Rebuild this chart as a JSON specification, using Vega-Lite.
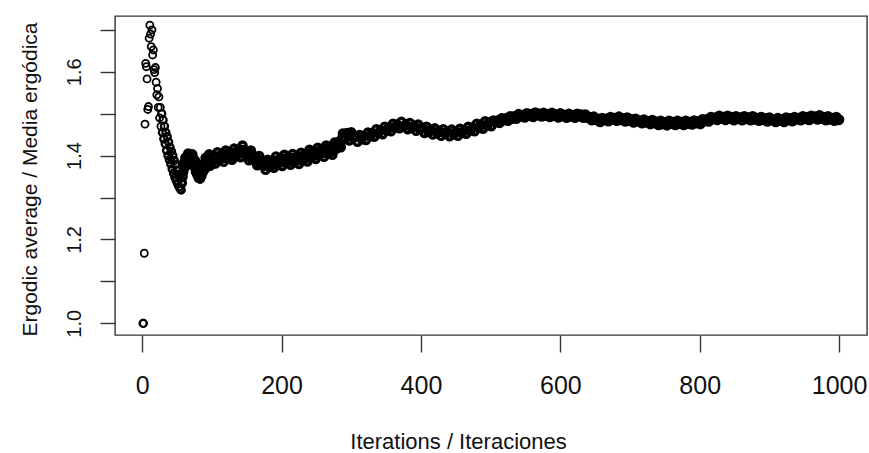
{
  "$schema": "https://vega.github.io/schema/vega-lite/v6.json",
  "width": 752,
  "height": 319,
  "autosize": {"type": "none"},
  "padding": {"left": 115, "top": 16, "right": 2, "bottom": 118},
  "background": "white",
  "config": {
    "view": {"stroke": "#333", "strokeWidth": 1.4},
    "axis": {"grid": false, "domain": false, "tickColor": "#333", "tickWidth": 1.4, "labelColor": "#111", "titleColor": "#111", "labelFlush": false, "labelOverlap": false, "labelBound": false}
  },
  "data": {"values": [
    {"i":1,"v":1.000},{"i":2,"v":1.000},{"i":3,"v":1.167},{"i":4,"v":1.475},{"i":5,"v":1.620},{"i":6,"v":1.612},{"i":7,"v":1.583},{"i":8,"v":1.510},{"i":9,"v":1.517},{"i":10,"v":1.680},
    {"i":11,"v":1.711},{"i":12,"v":1.690},{"i":13,"v":1.660},{"i":14,"v":1.700},{"i":15,"v":1.640},{"i":16,"v":1.652},{"i":17,"v":1.605},{"i":18,"v":1.598},{"i":19,"v":1.610},{"i":20,"v":1.575},
    {"i":21,"v":1.545},{"i":22,"v":1.560},{"i":23,"v":1.515},{"i":24,"v":1.540},{"i":25,"v":1.490},{"i":26,"v":1.515},{"i":27,"v":1.470},{"i":28,"v":1.500},{"i":29,"v":1.455},{"i":30,"v":1.485},
    {"i":31,"v":1.440},{"i":32,"v":1.470},{"i":33,"v":1.428},{"i":34,"v":1.455},{"i":35,"v":1.412},{"i":36,"v":1.445},{"i":37,"v":1.400},{"i":38,"v":1.432},{"i":39,"v":1.390},{"i":40,"v":1.420},
    {"i":41,"v":1.380},{"i":42,"v":1.410},{"i":43,"v":1.368},{"i":44,"v":1.400},{"i":45,"v":1.358},{"i":46,"v":1.388},{"i":47,"v":1.348},{"i":48,"v":1.378},{"i":49,"v":1.340},{"i":50,"v":1.365},
    {"i":51,"v":1.332},{"i":52,"v":1.355},{"i":53,"v":1.325},{"i":54,"v":1.345},{"i":55,"v":1.320},{"i":56,"v":1.318},{"i":57,"v":1.335},{"i":58,"v":1.350},{"i":59,"v":1.362},
    {"i":60,"v":1.383},{"i":61,"v":1.372},{"i":62,"v":1.395},{"i":63,"v":1.387},{"i":64,"v":1.398},{"i":65,"v":1.380},{"i":66,"v":1.405},{"i":67,"v":1.392},{"i":68,"v":1.400},{"i":69,"v":1.385},{"i":70,"v":1.396},{"i":71,"v":1.378},
    {"i":72,"v":1.403},{"i":73,"v":1.385},{"i":74,"v":1.392},{"i":75,"v":1.375},{"i":76,"v":1.388},{"i":77,"v":1.362},{"i":78,"v":1.373},{"i":79,"v":1.355},{"i":80,"v":1.365},{"i":81,"v":1.347},{"i":82,"v":1.360},{"i":83,"v":1.345},
    {"i":84,"v":1.371},{"i":85,"v":1.352},{"i":86,"v":1.376},{"i":87,"v":1.361},{"i":88,"v":1.380},{"i":89,"v":1.366},{"i":90,"v":1.383},{"i":91,"v":1.395},{"i":92,"v":1.378},{"i":93,"v":1.373},{"i":94,"v":1.396},{"i":95,"v":1.380},
    {"i":96,"v":1.403},{"i":97,"v":1.390},{"i":98,"v":1.376},{"i":99,"v":1.387},
    {"i":101,"v":1.397},{"i":104,"v":1.390},{"i":107,"v":1.398},{"i":110,"v":1.391},{"i":113,"v":1.400},{"i":116,"v":1.394},{"i":119,"v":1.403},{"i":122,"v":1.396},{"i":125,"v":1.405},{"i":128,"v":1.398},
    {"i":131,"v":1.407},{"i":134,"v":1.401},{"i":137,"v":1.411},{"i":140,"v":1.405},{"i":143,"v":1.414},{"i":146,"v":1.406},{"i":149,"v":1.410},{"i":152,"v":1.399},{"i":155,"v":1.404},{"i":158,"v":1.393},
    {"i":161,"v":1.398},{"i":164,"v":1.387},{"i":167,"v":1.391},{"i":170,"v":1.380},{"i":173,"v":1.386},{"i":176,"v":1.376},{"i":179,"v":1.382},{"i":182,"v":1.374},{"i":185,"v":1.384},{"i":188,"v":1.379},
    {"i":191,"v":1.388},{"i":194,"v":1.382},{"i":197,"v":1.391},{"i":200,"v":1.384},{"i":203,"v":1.393},{"i":206,"v":1.385},{"i":209,"v":1.394},{"i":212,"v":1.386},{"i":215,"v":1.395},{"i":218,"v":1.388},
    {"i":221,"v":1.396},{"i":224,"v":1.389},{"i":227,"v":1.398},{"i":230,"v":1.391},{"i":233,"v":1.401},{"i":236,"v":1.395},{"i":239,"v":1.405},{"i":242,"v":1.398},{"i":245,"v":1.407},{"i":248,"v":1.400},
    {"i":251,"v":1.410},{"i":254,"v":1.403},{"i":257,"v":1.413},{"i":260,"v":1.406},{"i":263,"v":1.415},{"i":266,"v":1.408},{"i":269,"v":1.417},{"i":272,"v":1.410},{"i":275,"v":1.420},{"i":278,"v":1.417},
    {"i":281,"v":1.430},{"i":284,"v":1.427},{"i":287,"v":1.442},{"i":290,"v":1.441},{"i":293,"v":1.452},{"i":296,"v":1.446},{"i":299,"v":1.452},
    {"i":102,"v":1.398},{"i":105,"v":1.381},{"i":108,"v":1.408},{"i":111,"v":1.390},{"i":114,"v":1.402},{"i":117,"v":1.385},
    {"i":120,"v":1.412},{"i":123,"v":1.395},{"i":126,"v":1.406},{"i":129,"v":1.390},{"i":132,"v":1.417},{"i":135,"v":1.401},{"i":138,"v":1.413},{"i":141,"v":1.396},{"i":144,"v":1.424},{"i":147,"v":1.404},
    {"i":150,"v":1.410},{"i":153,"v":1.389},{"i":156,"v":1.412},{"i":159,"v":1.391},{"i":162,"v":1.398},{"i":165,"v":1.377},{"i":168,"v":1.399},{"i":171,"v":1.378},{"i":174,"v":1.386},{"i":177,"v":1.366},
    {"i":180,"v":1.390},{"i":183,"v":1.374},{"i":186,"v":1.386},{"i":189,"v":1.371},{"i":192,"v":1.398},{"i":195,"v":1.381},{"i":198,"v":1.392},{"i":201,"v":1.375},{"i":204,"v":1.402},{"i":207,"v":1.384},
    {"i":210,"v":1.395},{"i":213,"v":1.378},{"i":216,"v":1.404},{"i":219,"v":1.387},{"i":222,"v":1.398},{"i":225,"v":1.380},{"i":228,"v":1.407},{"i":231,"v":1.391},{"i":234,"v":1.402},{"i":237,"v":1.386},
    {"i":240,"v":1.414},{"i":243,"v":1.397},{"i":246,"v":1.409},{"i":249,"v":1.392},{"i":252,"v":1.419},{"i":255,"v":1.403},{"i":258,"v":1.414},{"i":261,"v":1.397},{"i":264,"v":1.424},{"i":267,"v":1.407},
    {"i":270,"v":1.418},{"i":273,"v":1.402},{"i":276,"v":1.431},{"i":279,"v":1.417},{"i":282,"v":1.433},{"i":285,"v":1.420},{"i":288,"v":1.453},{"i":291,"v":1.441},{"i":294,"v":1.454},{"i":297,"v":1.436},
    {"i":300,"v":1.456},{"i":303,"v":1.443},{"i":306,"v":1.446},{"i":309,"v":1.433},{"i":312,"v":1.449},{"i":315,"v":1.439},{"i":318,"v":1.447},{"i":321,"v":1.437},{"i":324,"v":1.455},{"i":327,"v":1.446},
    {"i":330,"v":1.454},{"i":333,"v":1.445},{"i":336,"v":1.463},{"i":339,"v":1.453},{"i":342,"v":1.461},{"i":345,"v":1.451},{"i":348,"v":1.469},{"i":351,"v":1.460},{"i":354,"v":1.467},{"i":357,"v":1.458},
    {"i":360,"v":1.476},{"i":363,"v":1.467},{"i":366,"v":1.474},{"i":369,"v":1.465},{"i":372,"v":1.481},{"i":375,"v":1.469},{"i":378,"v":1.474},{"i":381,"v":1.463},{"i":384,"v":1.478},{"i":387,"v":1.466},
    {"i":390,"v":1.471},{"i":393,"v":1.459},{"i":396,"v":1.474},{"i":399,"v":1.462},{"i":402,"v":1.467},{"i":405,"v":1.454},{"i":408,"v":1.469},{"i":411,"v":1.457},{"i":414,"v":1.462},{"i":417,"v":1.450},
    {"i":420,"v":1.465},{"i":423,"v":1.453},{"i":426,"v":1.459},{"i":429,"v":1.447},{"i":432,"v":1.463},{"i":435,"v":1.452},{"i":438,"v":1.457},{"i":441,"v":1.446},{"i":444,"v":1.462},{"i":447,"v":1.451},
    {"i":450,"v":1.457},{"i":453,"v":1.447},{"i":456,"v":1.464},{"i":459,"v":1.454},{"i":462,"v":1.461},{"i":465,"v":1.452},{"i":468,"v":1.469},{"i":471,"v":1.460},{"i":474,"v":1.467},{"i":477,"v":1.458},
    {"i":480,"v":1.476},{"i":483,"v":1.466},{"i":486,"v":1.474},{"i":489,"v":1.464},{"i":492,"v":1.482},{"i":495,"v":1.472},{"i":498,"v":1.479},{"i":501,"v":1.470},{"i":504,"v":1.484},{"i":507,"v":1.479},
    {"i":510,"v":1.484},{"i":513,"v":1.478},{"i":516,"v":1.489},{"i":519,"v":1.484},{"i":522,"v":1.489},{"i":525,"v":1.483},{"i":528,"v":1.494},{"i":531,"v":1.488},{"i":534,"v":1.494},{"i":537,"v":1.488},
    {"i":540,"v":1.499},{"i":543,"v":1.493},{"i":546,"v":1.497},{"i":549,"v":1.491},{"i":552,"v":1.501},{"i":555,"v":1.495},{"i":558,"v":1.499},{"i":561,"v":1.492},{"i":564,"v":1.503},{"i":567,"v":1.496},
    {"i":570,"v":1.500},{"i":573,"v":1.493},{"i":576,"v":1.502},{"i":579,"v":1.495},{"i":582,"v":1.499},{"i":585,"v":1.492},{"i":588,"v":1.502},{"i":591,"v":1.495},{"i":594,"v":1.498},{"i":597,"v":1.491},
    {"i":600,"v":1.501},{"i":603,"v":1.494},{"i":606,"v":1.497},{"i":609,"v":1.490},{"i":612,"v":1.500},{"i":615,"v":1.493},{"i":618,"v":1.497},{"i":621,"v":1.490},{"i":624,"v":1.500},{"i":627,"v":1.494},
    {"i":630,"v":1.498},{"i":633,"v":1.490},{"i":636,"v":1.498},{"i":639,"v":1.490},{"i":642,"v":1.492},{"i":645,"v":1.484},{"i":648,"v":1.493},{"i":651,"v":1.485},{"i":654,"v":1.488},{"i":657,"v":1.480},
    {"i":660,"v":1.490},{"i":663,"v":1.484},{"i":666,"v":1.488},{"i":669,"v":1.482},{"i":672,"v":1.492},{"i":675,"v":1.486},{"i":678,"v":1.490},{"i":681,"v":1.483},{"i":684,"v":1.493},{"i":687,"v":1.485},
    {"i":690,"v":1.489},{"i":693,"v":1.481},{"i":696,"v":1.491},{"i":699,"v":1.483},{"i":702,"v":1.487},{"i":705,"v":1.479},{"i":708,"v":1.488},{"i":711,"v":1.481},{"i":714,"v":1.484},{"i":717,"v":1.477},
    {"i":720,"v":1.486},{"i":723,"v":1.479},{"i":726,"v":1.482},{"i":729,"v":1.475},{"i":732,"v":1.485},{"i":735,"v":1.477},{"i":738,"v":1.481},{"i":741,"v":1.473},{"i":744,"v":1.483},{"i":747,"v":1.475},
    {"i":750,"v":1.479},{"i":753,"v":1.472},{"i":756,"v":1.483},{"i":759,"v":1.476},{"i":762,"v":1.480},{"i":765,"v":1.473},{"i":768,"v":1.483},{"i":771,"v":1.476},{"i":774,"v":1.480},{"i":777,"v":1.473},
    {"i":780,"v":1.483},{"i":783,"v":1.476},{"i":786,"v":1.480},{"i":789,"v":1.474},{"i":792,"v":1.484},{"i":795,"v":1.477},{"i":798,"v":1.482},{"i":801,"v":1.475},{"i":804,"v":1.487},{"i":807,"v":1.482},
    {"i":810,"v":1.487},{"i":813,"v":1.481},{"i":816,"v":1.492},{"i":819,"v":1.487},{"i":822,"v":1.491},{"i":825,"v":1.485},{"i":828,"v":1.495},{"i":831,"v":1.488},{"i":834,"v":1.492},{"i":837,"v":1.485},
    {"i":840,"v":1.495},{"i":843,"v":1.488},{"i":846,"v":1.492},{"i":849,"v":1.484},{"i":852,"v":1.494},{"i":855,"v":1.487},{"i":858,"v":1.491},{"i":861,"v":1.484},{"i":864,"v":1.494},{"i":867,"v":1.487},
    {"i":870,"v":1.491},{"i":873,"v":1.484},{"i":876,"v":1.494},{"i":879,"v":1.486},{"i":882,"v":1.490},{"i":885,"v":1.483},{"i":888,"v":1.492},{"i":891,"v":1.485},{"i":894,"v":1.489},{"i":897,"v":1.481},
    {"i":900,"v":1.491},{"i":903,"v":1.484},{"i":906,"v":1.487},{"i":909,"v":1.480},{"i":912,"v":1.490},{"i":915,"v":1.483},{"i":918,"v":1.487},{"i":921,"v":1.480},{"i":924,"v":1.491},{"i":927,"v":1.484},
    {"i":930,"v":1.489},{"i":933,"v":1.482},{"i":936,"v":1.492},{"i":939,"v":1.486},{"i":942,"v":1.490},{"i":945,"v":1.484},{"i":948,"v":1.494},{"i":951,"v":1.487},{"i":954,"v":1.492},{"i":957,"v":1.485},
    {"i":960,"v":1.495},{"i":963,"v":1.489},{"i":966,"v":1.493},{"i":969,"v":1.486},{"i":972,"v":1.496},{"i":975,"v":1.488},{"i":978,"v":1.492},{"i":981,"v":1.484},{"i":984,"v":1.494},{"i":987,"v":1.486},
    {"i":990,"v":1.490},{"i":993,"v":1.483},{"i":996,"v":1.492},{"i":999,"v":1.485},{"i":1000,"v":1.486}
  ]},
  "mark": {"type": "point", "shape": "circle", "filled": false, "stroke": "black", "size": 50, "opacity": 1},
  "encoding": {
    "strokeWidth": {
      "condition": [
        {"test": "datum.i >= 57", "value": 3.4},
        {"test": "datum.i >= 28", "value": 2.3}
      ],
      "value": 1.8
    },
    "x": {
      "field": "i", "type": "quantitative",
      "scale": {"domain": [-39, 1040], "nice": false, "zero": false},
      "axis": {
        "values": [0, 200, 400, 600, 800, 1000],
        "format": "d",
        "tickSize": 17,
        "labelPadding": 21,
        "labelBaseline": "top",
        "labelFont": "Liberation Sans",
        "labelFontSize": 25,
        "title": "Iterations / Iteraciones",
        "titleFont": "Liberation Sans",
        "titleFontSize": 22,
        "titleFontWeight": "normal",
        "titleX": 343,
        "titleY": 113,
        "titleAlign": "center",
        "titleBaseline": "alphabetic"
      }
    },
    "y": {
      "field": "v", "type": "quantitative",
      "scale": {"domain": [0.972, 1.733], "nice": false, "zero": false},
      "axis": {
        "values": [1.0, 1.1, 1.2, 1.3, 1.4, 1.5, 1.6, 1.7],
        "labelExpr": "round(datum.value * 10) % 2 == 0 ? format(datum.value, '.1f') : ''",
        "tickSize": 15,
        "labelAngle": -90,
        "labelAlign": "center",
        "labelBaseline": "alphabetic",
        "labelPadding": 20,
        "labelFont": "Liberation Sans",
        "labelFontSize": 20,
        "title": "Ergodic average / Media ergódica",
        "titleFont": "Liberation Sans",
        "titleFontSize": 21,
        "titleFontWeight": "normal",
        "titleAngle": -90,
        "titleX": -79,
        "titleY": 163,
        "titleAlign": "center",
        "titleBaseline": "alphabetic"
      }
    }
  }
}
